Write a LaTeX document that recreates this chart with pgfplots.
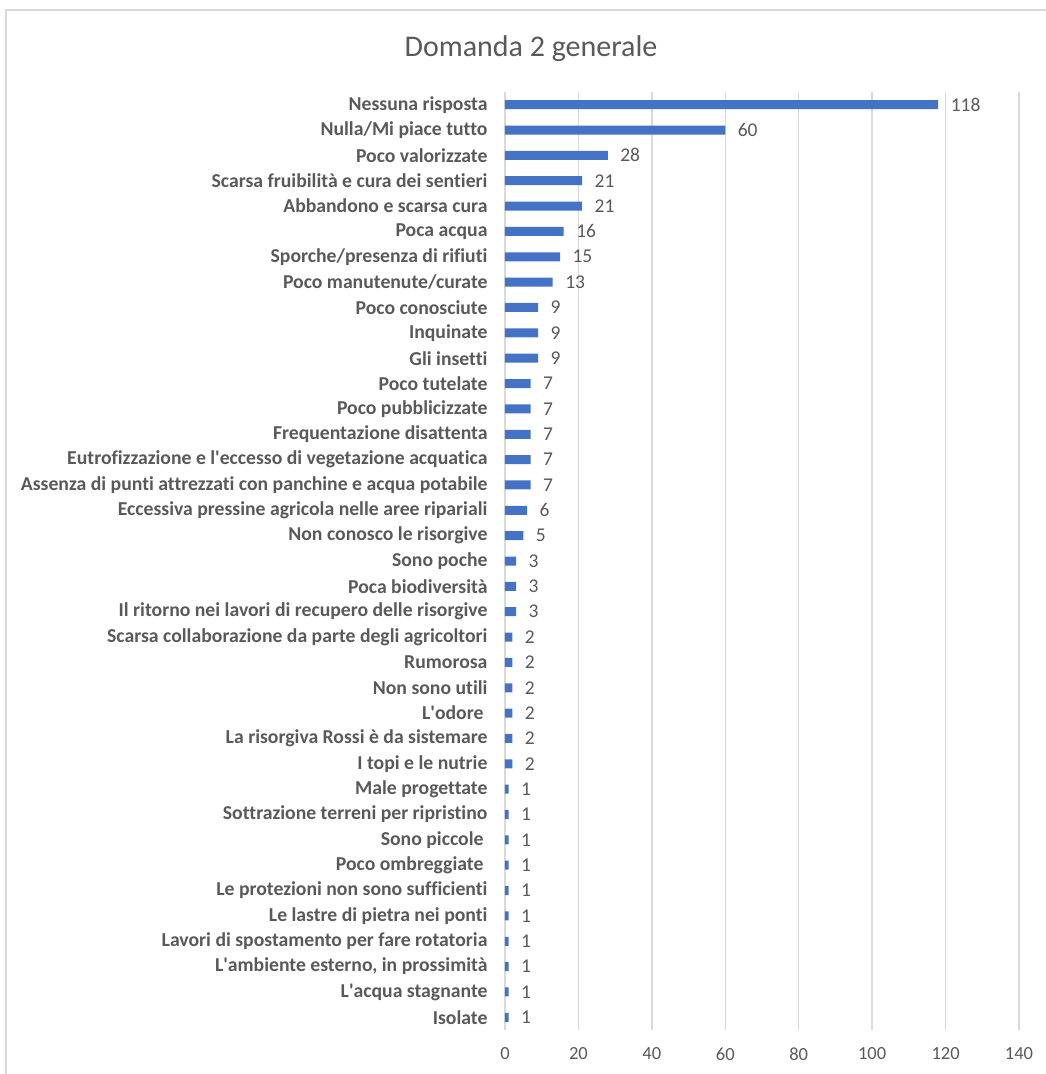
\documentclass[border=0pt]{standalone}
\usepackage{fontspec}
\setmainfont{Carlito}[Ligatures={NoCommon}]
\usepackage{pgfplots}
\usepackage{pgfplotstable}
\pgfplotsset{compat=1.18}

\definecolor{barblue}{HTML}{4472C4}
\definecolor{txtgray}{HTML}{595959}
\definecolor{gridgray}{HTML}{D9D9D9}

% idx 0 = top row
\pgfplotstableread{
idx val
0 118
1 60
2 28
3 21
4 21
5 16
6 15
7 13
8 9
9 9
10 9
11 7
12 7
13 7
14 7
15 7
16 6
17 5
18 3
19 3
20 3
21 2
22 2
23 2
24 2
25 2
26 2
27 1
28 1
29 1
30 1
31 1
32 1
33 1
34 1
35 1
36 1
}\risposte

\newcommand{\q}{\textquotesingle}
\newcommand{\trail}{\hspace*{4pt}}

\begin{document}
\begin{tikzpicture}[x=1pt,y=1pt]
\useasboundingbox (0,0) rectangle (1046,1074);
% chart frame
\draw[gridgray, line width=1.5pt] (6,-20) -- (6,1064) -- (1070,1064);
\node[txtgray, font=\fontsize{30}{36}\selectfont] at (531,1025) {Domanda 2 generale};

\begin{axis}[
    at={(505pt,44pt)}, anchor=south west,
    scale only axis,
    width=514pt, height=938pt,
    xmin=0, xmax=140,
    ymin=-0.5, ymax=36.5,
    y dir=reverse,
    xbar, bar width=9pt,
    axis line style={draw=none},
    xtick={0,20,...,140},
    ytick={0,...,36},
    yticklabels={
      Nessuna risposta,
      Nulla/Mi piace tutto,
      Poco valorizzate,
      Scarsa fruibilità e cura dei sentieri,
      Abbandono e scarsa cura,
      Poca acqua,
      Sporche/presenza di rifiuti,
      Poco manutenute/curate,
      Poco conosciute,
      Inquinate,
      Gli insetti,
      Poco tutelate,
      Poco pubblicizzate,
      Frequentazione disattenta,
      Eutrofizzazione e l\q eccesso di vegetazione acquatica,
      Assenza di punti attrezzati con panchine e acqua potabile,
      Eccessiva pressine agricola nelle aree ripariali,
      Non conosco le risorgive,
      Sono poche,
      Poca biodiversità,
      Il ritorno nei lavori di recupero delle risorgive,
      Scarsa collaborazione da parte degli agricoltori,
      Rumorosa,
      Non sono utili,
      L\q odore\trail,
      La risorgiva Rossi è da sistemare,
      I topi e le nutrie,
      Male progettate,
      Sottrazione terreni per ripristino,
      Sono piccole\trail,
      Poco ombreggiate\trail,
      Le protezioni non sono sufficienti,
      Le lastre di pietra nei ponti,
      Lavori di spostamento per fare rotatoria,
      {L\q ambiente esterno, in prossimità},
      L\q acqua stagnante,
      Isolate
    },
    major tick length=0pt,
    xmajorgrids,
    grid style={gridgray, line width=1.3pt},
    /pgf/number format/assume math mode=true,
    tick label style={txtgray, font=\fontsize{18.5}{22}\selectfont},
    yticklabel style={font=\fontsize{19.7}{22}\selectfont\bfseries, xshift=-14pt},
    xticklabel style={yshift=-14pt},
    nodes near coords,
    point meta=explicit,
    nodes near coords style={anchor=west, xshift=9pt, txtgray, font=\fontsize{19.5}{22}\selectfont},
]
\addplot[fill=barblue, draw=none] table[x=val, y=idx, meta=val] {\risposte};
\end{axis}
\end{tikzpicture}
\end{document}
